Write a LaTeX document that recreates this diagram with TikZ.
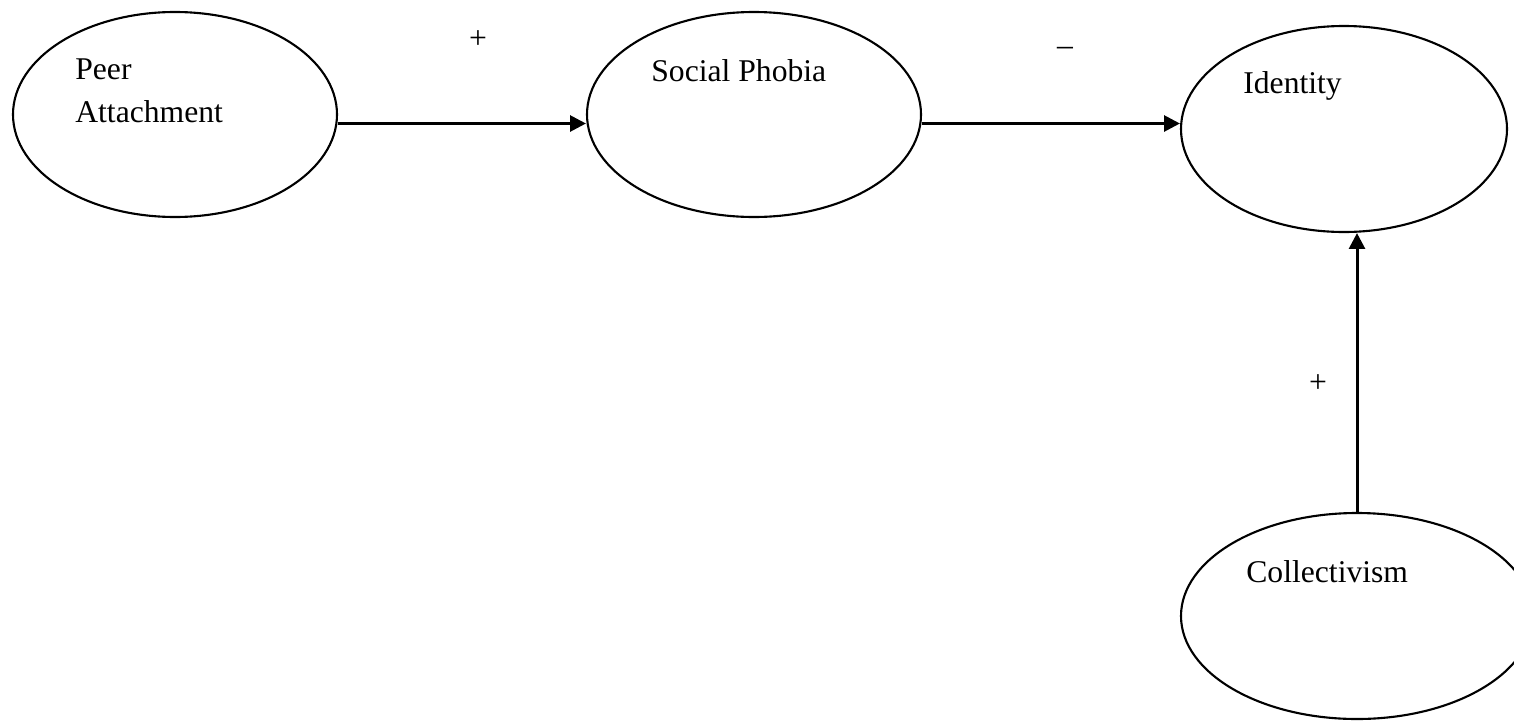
\documentclass[tikz,border=0pt]{standalone}
\usepackage{fontspec}
\setmainfont{Liberation Serif}
\usetikzlibrary{shapes.geometric,arrows.meta}

\begin{document}
\begin{tikzpicture}[
    construct/.style={draw,ellipse,line width=1.2pt,inner sep=0pt},
    link/.style={line width=1.7pt,-{Triangle[length=9pt,width=9pt]}},
    word/.style={font=\fontsize{18}{22}\selectfont,anchor=base west,inner sep=0pt},
    sign/.style={font=\fontsize{18}{22}\selectfont,inner sep=0pt}]
  \useasboundingbox (0,0) rectangle (30.28,-14.40);
  % constructs
  \node[construct,minimum width=6.48cm,minimum height=4.10cm] (peer) at (3.50,-2.29) {};
  \node[construct,minimum width=6.68cm,minimum height=4.10cm] (phobia) at (15.08,-2.29) {};
  \node[construct,minimum width=6.52cm,minimum height=4.12cm] (ident) at (26.88,-2.58) {};
  \node[construct,minimum width=7.04cm,minimum height=4.12cm] (collect) at (27.14,-12.32) {};
  \node[word] (peerA) at (1.50,-1.58) {Peer};
  \node[word] (peerB) at (1.50,-2.44) {Attachment};
  \node[word] (phobiaT) at (13.02,-1.62) {Social Phobia};
  \node[word] (identT) at (24.86,-1.86) {Identity};
  \node[word] (collectT) at (24.92,-11.64) {Collectivism};
  % paths
  \draw[link] ([yshift=-0.18cm]peer.east) -- ([yshift=-0.18cm]peer.east -| phobia.west);
  \draw[link] ([yshift=-0.18cm]phobia.east) -- ([yshift=-0.18cm]phobia.east -| ident.west);
  \draw[link] (collect.north) -- (collect.north |- ident.south);
  \node[sign] (signA) at (9.56,-0.80) {+};
  \node[sign] (signB) at (21.30,-1.02) {--};
  \node[sign] (signC) at (26.36,-7.68) {+};
\end{tikzpicture}
\end{document}
